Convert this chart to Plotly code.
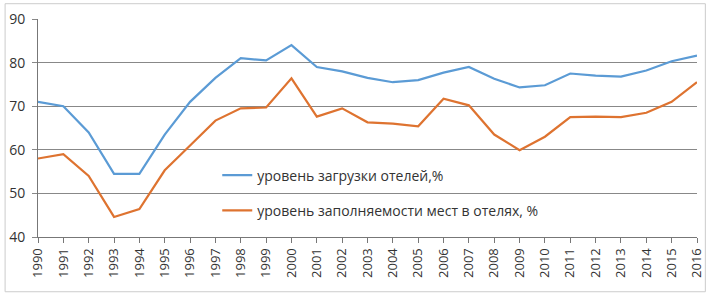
import plotly.graph_objects as go

years = list(range(1990, 2017))
year_labels = [str(y) for y in years]
hotel_load = [71, 70, 64, 54.5, 54.5, 63.5, 71, 76.5, 81, 80.5, 84, 79, 78, 76.5, 75.5, 76,
              77.7, 79, 76.3, 74.3, 74.8, 77.5, 77, 76.8, 78.2, 80.3, 81.6]
bed_occupancy = [58, 59, 54, 44.6, 46.4, 55.3, 61, 66.7, 69.5, 69.7, 76.4, 67.6, 69.5, 66.3, 66,
                 65.4, 71.7, 70.2, 63.5, 59.9, 63, 67.5, 67.6, 67.5, 68.5, 71, 75.5]
name_load = "уровень загрузки отелей,%"
name_occ = "уровень заполняемости мест в отелях, %"

fig = go.Figure()
fig.add_trace(go.Scatter(x=year_labels, y=hotel_load, mode="lines", name=name_load,
                         legendgroup="a", line=dict(color="#5B9BD5", width=2.2)))
fig.add_trace(go.Scatter(x=year_labels, y=bed_occupancy, mode="lines", name=name_occ,
                         legendgroup="b", line=dict(color="#DE7330", width=2.2)))

font = "Open Sans, Liberation Sans, sans-serif"
fig.update_layout(
    width=714, height=293,
    margin=dict(l=34, r=9, t=16, b=56),
    paper_bgcolor="white", plot_bgcolor="white",
    font=dict(family=font, size=13, color="#333"),
    showlegend=True,
    legend=dict(x=0.272, y=0.355, xanchor="left", yanchor="top",
                bgcolor="rgba(0,0,0,0)", font=dict(size=14, color="#333"),
                tracegroupgap=14, itemwidth=30),
    xaxis=dict(type="category", range=[0, 26], showgrid=False, showline=True,
               linecolor="#777", linewidth=1, ticks="outside", ticklen=5, tickcolor="#777",
               tickangle=-90, tickfont=dict(size=13, color="#333"), zeroline=False),
    yaxis=dict(range=[40, 90], dtick=10, showgrid=True, gridcolor="#888", gridwidth=1,
               showline=True, linecolor="#777", linewidth=1, ticks="outside", ticklen=5,
               tickcolor="#888", tickfont=dict(size=14, color="#333"), zeroline=False,
               ticklabelstandoff=4),
    shapes=[dict(type="rect", xref="paper", yref="paper", x0=-33.5/671, x1=1+8.5/671,
                 y0=-55.5/221, y1=1+15.5/221, line=dict(color="#ccc", width=1))],
)
fig.write_html("out.html", config={"displayModeBar": False},
               post_script="document.body.style.margin='0';")
